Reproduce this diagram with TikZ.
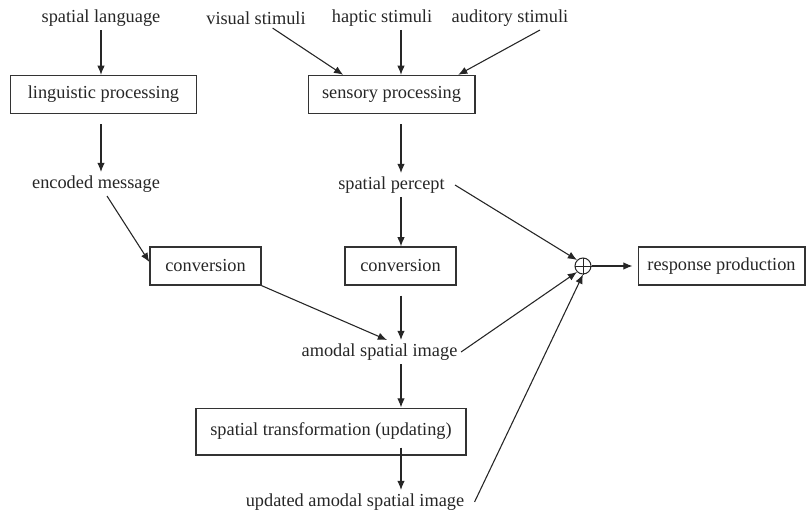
\documentclass[tikz,border=0pt]{standalone}
\usepackage{fontspec}
\setmainfont{Liberation Serif}
\usetikzlibrary{arrows.meta,positioning}

\begin{document}
\begin{tikzpicture}
[x=0.6pt, y=-0.6pt,
txt/.style={font=\fontsize{11}{13}\selectfont, text=black!85, inner sep=2pt},
procbox/.style={txt, draw=black!80, line width=0.8pt, minimum height=22.8pt, inner sep=3pt},
arrow/.style={draw=black!85, line width=0.65pt, -{Latex[length=5.5pt,width=4.5pt]}},
]
    \useasboundingbox (0,0) rectangle (807,515);
    \coordinate (col) at (401,0);
    % left column
    \node (lang) [txt] at (101,18) {spatial language};
    \node (ling) [procbox, minimum width=112pt] at (103.5,94.5) {linguistic processing};
    \node (enc) [txt] at (96,184) {encoded message};
    \node (convl) [procbox, minimum width=66.6pt] at (205.5,266) {conversion};
    % middle column
    \node (vis) [txt] at (256,18) {visual stimuli};
    \node (hap) [txt] at (382,18) {haptic stimuli};
    \node (aud) [txt] at (510,18) {auditory stimuli};
    \node (sens) [procbox, minimum width=100pt] at (391.5,94.5) {sensory processing};
    \node (perc) [txt] at (391.5,185) {spatial percept};
    \node (convm) [procbox, minimum width=66.6pt] at (400.5,266) {conversion};
    \node (amod) [txt] at (379.5,352) {amodal spatial image};
    \node (trans) [procbox, minimum width=162pt, minimum height=28pt] at (331,431.5) {spatial transformation (updating)};
    \node (upd) [txt] at (355,502) {updated amodal spatial image};
    % output
    \node (sum) [circle, draw=black!85, line width=0.6pt, inner sep=0pt, minimum size=9.6pt] at (583,266) {};
    \draw[black!85, line width=0.5pt] (sum.north) -- (sum.south) (sum.west) -- (sum.east);
    \node (resp) [procbox, minimum width=100pt] at (721.5,266) {response production};

    \draw[arrow] (lang.south) -- (lang.south |- ling.north);
    \draw[arrow, shorten <=6pt] (ling.south -| lang) -- (enc.north -| lang);
    \draw[arrow] ([xshift=6.6pt]enc.south) -- ([yshift=2.4pt]convl.west);

    \draw[arrow] ([xshift=10pt]vis.south) -- ([xshift=-29pt]sens.north);
    \draw[arrow] (hap.south -| col) -- (sens.north -| col);
    \draw[arrow] ([xshift=18pt]aud.south) -- ([xshift=40pt]sens.north);
    \draw[arrow, shorten <=6pt] (sens.south -| col) -- (perc.north -| col);
    \draw[arrow] (perc.south -| col) -- (convm.north -| col);
    \draw[arrow] ([xshift=4pt]perc.east) -- (sum.north west);
    \draw[arrow] (sum.east) -- ([xshift=-3pt]resp.west);

    \draw[arrow] (convl.south east) -- ([xshift=-8.4pt]amod.north -| col);
    \draw[arrow, shorten <=6pt] (convm.south -| col) -- (amod.north -| col);
    \draw[arrow] (amod.east) -- (sum.south west);
    \draw[arrow] (amod.south -| col) -- (trans.north -| col);
    \draw[arrow, shorten <=-4.8pt] (trans.south -| col) -- (upd.north -| col);
    \draw[arrow] ([xshift=4pt]upd.east) -- (sum.south);
\end{tikzpicture}
\end{document}
